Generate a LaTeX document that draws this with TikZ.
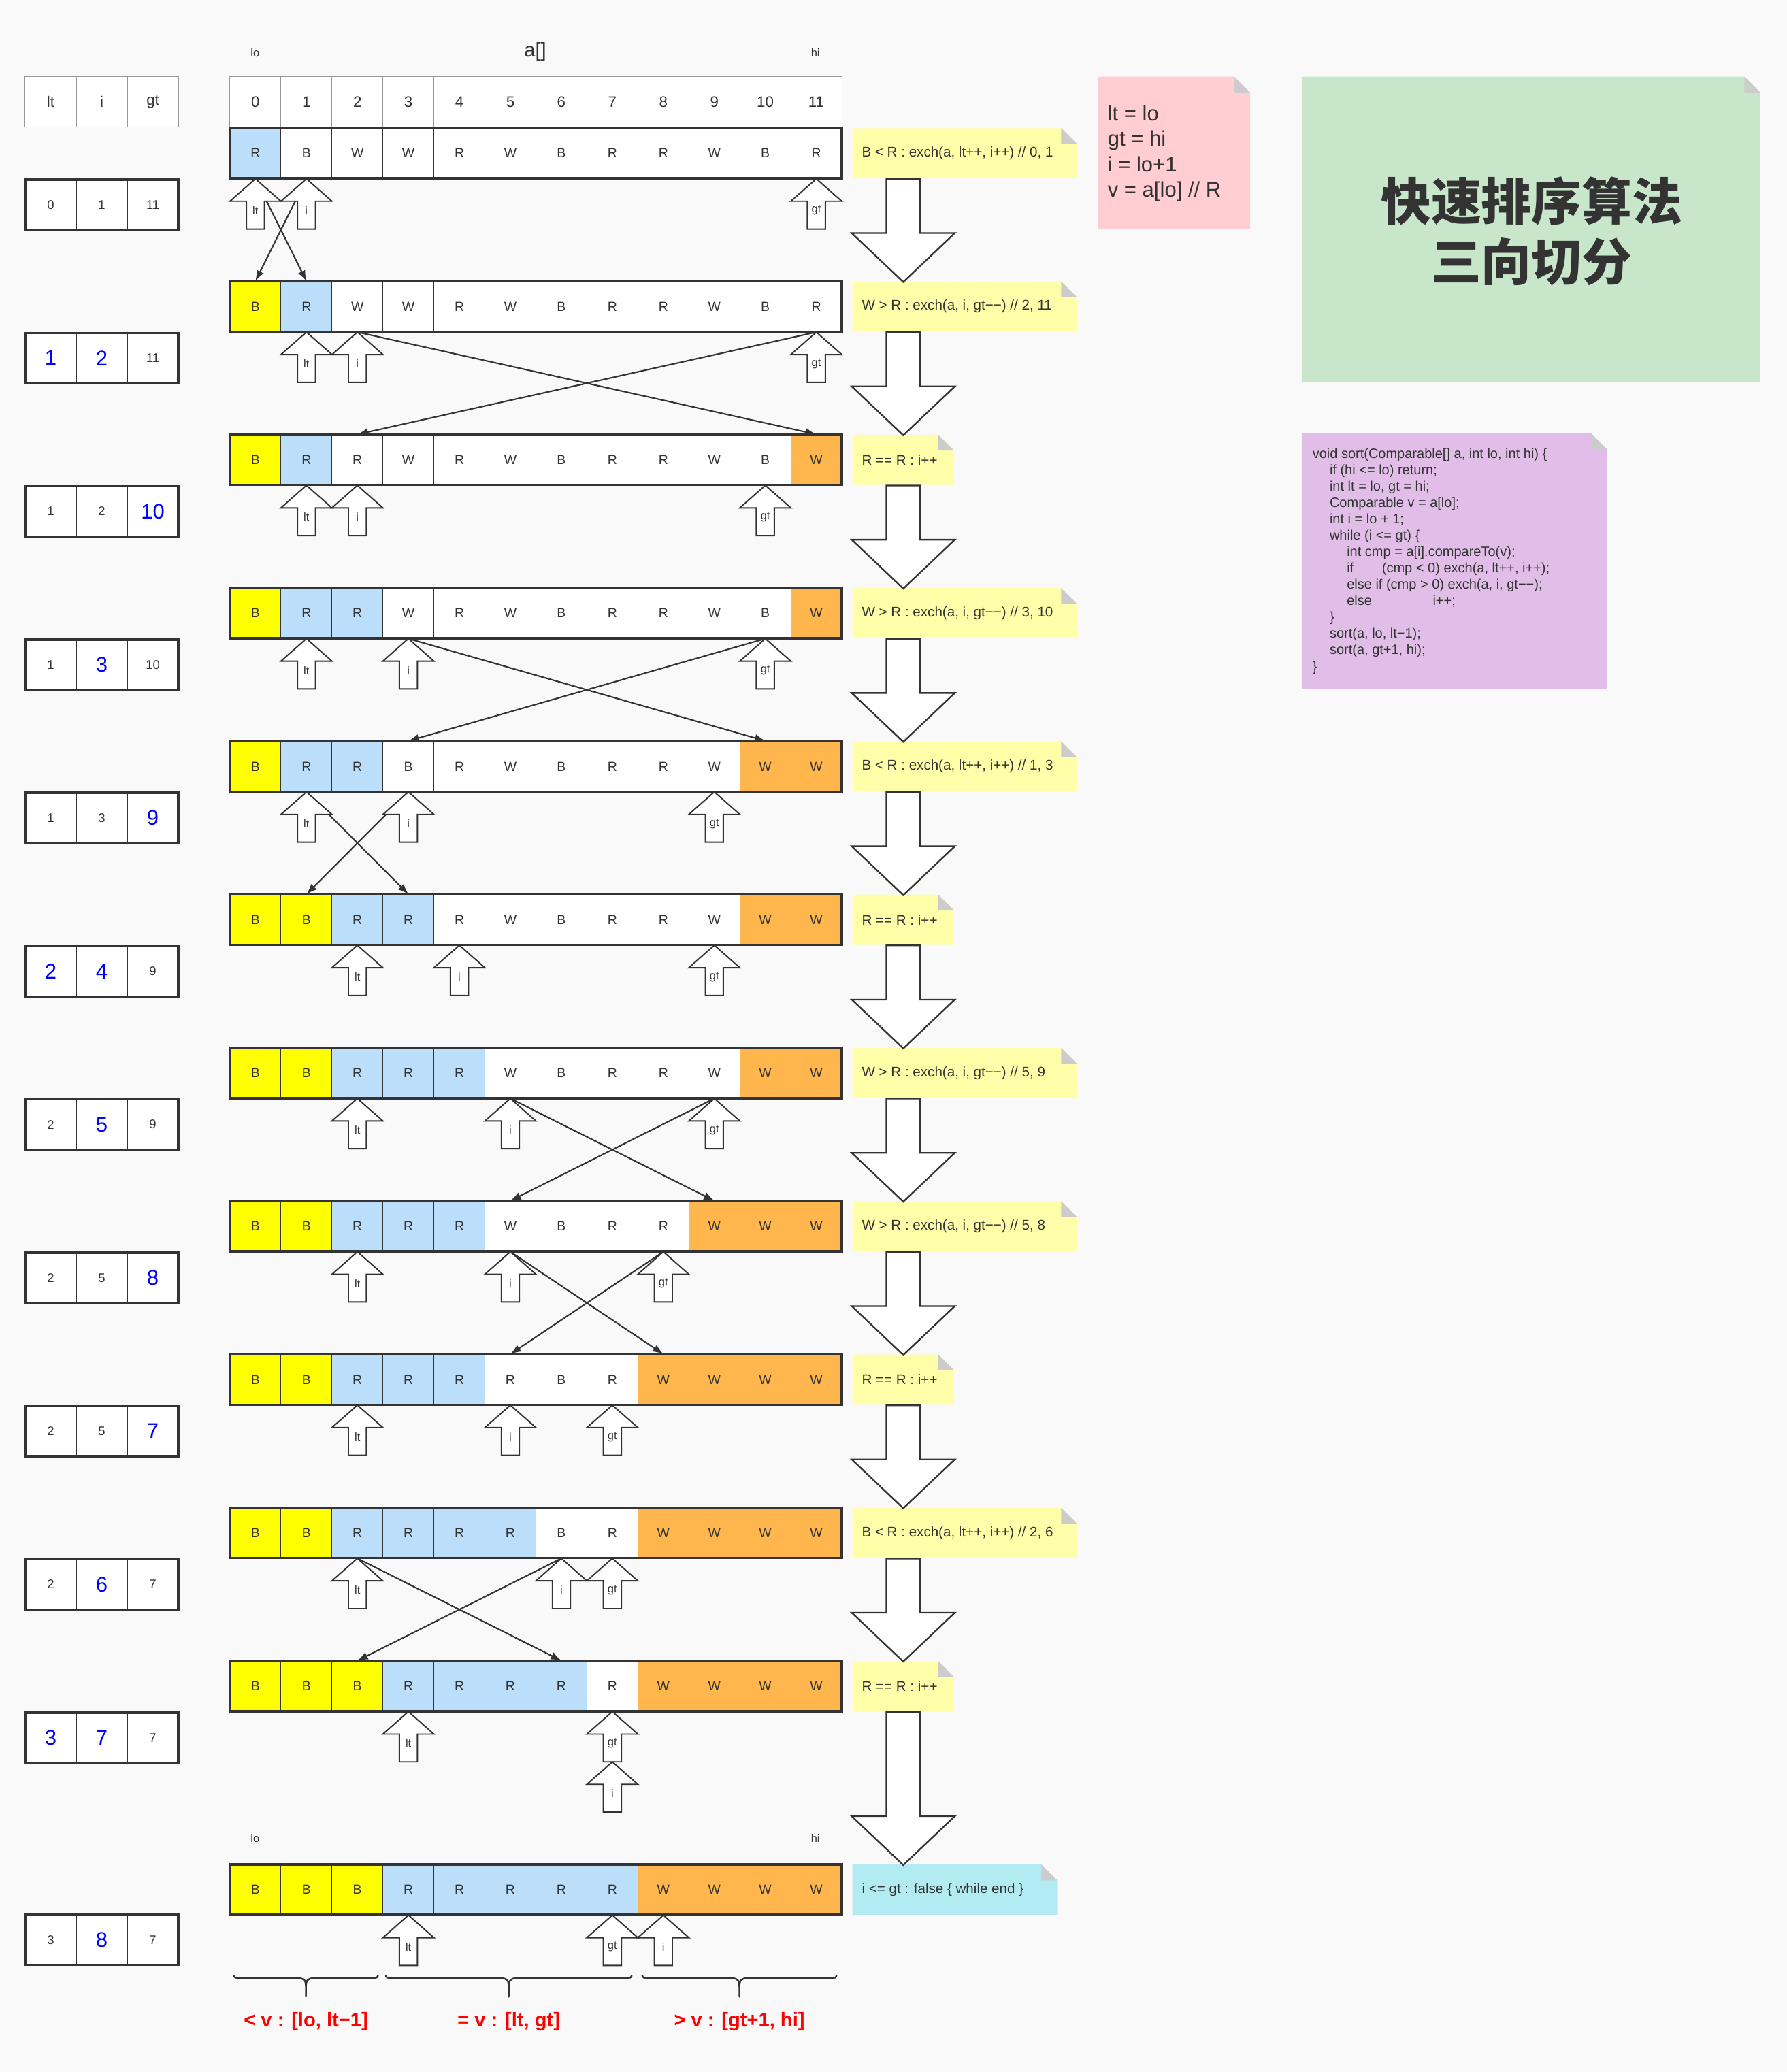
\documentclass[tikz,border=0pt]{standalone}
\usepackage{fontspec}
\setmainfont{Liberation Sans}
\newfontfamily\cjkfont{Noto Sans CJK SC}
\usetikzlibrary{arrows.meta}
\definecolor{cy}{HTML}{FFFF00}
\definecolor{cb}{HTML}{BBDEFB}
\definecolor{cw}{HTML}{FFFFFF}
\definecolor{co}{HTML}{FFB74D}
\definecolor{ink}{HTML}{333333}
\definecolor{bg}{HTML}{F9F9F9}
\definecolor{noteyel}{HTML}{FFFFAA}
\definecolor{notecyan}{HTML}{B2EBF2}
\definecolor{notepink}{HTML}{FFCDD2}
\definecolor{notegreen}{HTML}{C8E6C9}
\definecolor{notepurple}{HTML}{E1BEE7}
\definecolor{fold}{HTML}{CCCCCC}
\definecolor{numblue}{HTML}{0000FF}
\definecolor{hdrgray}{HTML}{999999}
\newcommand\bn[1]{{\fontsize{16}{19}\selectfont\color{numblue}#1}}
% array row: name, top y, letter/colour list
\newcommand\arow[3]{%
  \foreach \ltr/\clr [count=\cc from 0] in {#3} {
    \node[cell, fill=\clr] (#1c\cc) at ({174+38.583*\cc+19.29}, {#2+19}) {\ltr};
  }
  \draw[outerframe] (174,#2) rectangle (637,{#2+38});
}
% index table: name, top y, lt, i, gt
\newcommand\trow[5]{%
  \node[tcell] (#1a) at (38.33, {#2+19}) {#3};
  \node[tcell] (#1b) at (77, {#2+19}) {#4};
  \node[tcell] (#1g) at (115.67, {#2+19}) {#5};
  \draw[outerframe] (19,#2) rectangle (135,{#2+38});
}
% sticky note body: name, x, y, w, h, colour
\newcommand\note[6]{%
  \fill[#6] (#2,#3) -- ({#2+#4-12},#3) -- ({#2+#4},{#3+12}) -- ({#2+#4},{#3+#5}) -- (#2,{#3+#5}) -- cycle;
  \fill[fold] ({#2+#4-12},#3) -- ({#2+#4-12},{#3+12}) -- ({#2+#4},{#3+12}) -- cycle;
  \node[minimum width=#4, minimum height=#5, inner sep=0pt, anchor=north west] (#1) at (#2,#3) {};
}
% row note with text
\newcommand\rnote[5]{% name, y, w, colour, text
  \note{#1}{645}{#2}{#3}{38}{#4}
  \node[notetext] (#1-t) at (652,{#2+19}) {#5};
}
% brace: left x, mid x, right x
\newcommand\brc[3]{%
  \draw[bracestyle] (#1,1494.5) .. controls (#1,1496.5) and ({#1+1},1497) .. ({#1+5},1497) -- ({#2-6},1497) .. controls ({#2-1},1497) and (#2,1499) .. (#2,1504) -- (#2,1511) -- (#2,1504) .. controls (#2,1499) and ({#2+1},1497) .. ({#2+6},1497) -- ({#3-5},1497) .. controls ({#3-1},1497) and (#3,1496.5) .. (#3,1494.5);
}
\begin{document}
\begin{tikzpicture}[x=1pt,y=-1pt,
  cell/.style={draw=ink, line width=0.6pt, minimum width=38.583pt, minimum height=38pt, inner sep=0pt, text=ink, font=\fontsize{10}{12}\selectfont},
  outerframe/.style={draw=ink, line width=1.8pt},
  tcell/.style={cell, minimum width=38.667pt, fill=white, font=\fontsize{9.5}{11}\selectfont},
  hcell/.style={draw=hdrgray, line width=0.5pt, fill=white, minimum width=38.583pt, minimum height=38pt, inner sep=0pt, text=ink, font=\fontsize{11.5}{13}\selectfont},
  ptrshape/.style={draw=ink, fill=white, line width=1pt},
  ptrlbl/.style={inner sep=0pt, text=ink, font=\fontsize{8.5}{10}\selectfont},
  bigshape/.style={draw=ink, fill=white, line width=1.2pt},
  xline/.style={draw=ink, line width=1.1pt, -{Latex[length=8pt,width=6pt]}},
  notetext/.style={inner sep=0pt, text=ink, anchor=west, font=\fontsize{10.6}{12.5}\selectfont},
  small/.style={inner sep=0pt, text=ink, font=\fontsize{8.5}{10}\selectfont},
  bracestyle/.style={draw=ink, line width=1.3pt, line join=round},
  redlbl/.style={inner sep=0pt, text=red, font=\bfseries\fontsize{15}{18}\selectfont},
  pics/ptr/.style={code={
    \draw[ptrshape] (0,0) -- (19.29,17) -- (6.8,17) -- (6.8,38) -- (-6.8,38) -- (-6.8,17) -- (-19.29,17) -- cycle;
    \node[ptrlbl] (-l) at (0,24) {#1};
  }},
  pics/bigarr/.style={code={
    \draw[bigshape] (-12.8,0) -- (12.8,0) -- (12.8,{#1-37}) -- (39,{#1-37}) -- (0,#1) -- (-39,{#1-37}) -- (-12.8,{#1-37}) -- cycle;
  }},
]
\useasboundingbox (0,0) rectangle (1352,1568);
\fill[bg] (0,0) rectangle (1352,1568);

% headers
\node[hcell, minimum width=38.667pt] (hlt) at (38.33,77) {lt};
\node[hcell, minimum width=38.667pt] (hi) at (77,77) {i};
\node[hcell, minimum width=38.667pt] (hgt) at (115.67,77) {gt};
\foreach \cc in {0,...,11} {
  \node[hcell] (h\cc) at ({174+38.583*\cc+19.29}, 77) {\cc};
}
\node[inner sep=0pt, text=ink, font=\fontsize{15}{18}\selectfont] (aname) at (405,39) {a[]};
\node[small] (lotop) at (193,40) {lo};
\node[small] (hitop) at (617,40) {hi};
\node[small] (lobot) at (193,1391) {lo};
\node[small] (hibot) at (617,1391) {hi};

% side notes
\note{pink}{831}{58}{115}{115}{notepink}
\node[inner sep=0pt, text=ink, anchor=west, align=left, font=\fontsize{16}{19.3}\selectfont] (pink-t) at (838,116) {lt = lo\\gt = hi\\i = lo+1\\v = a[lo] // R};
\note{green}{985}{58}{347}{231}{notegreen}
\node[inner sep=0pt, text=ink, align=center, font=\cjkfont\bfseries\fontsize{38}{46}\selectfont] (title) at (1159,175) {快速排序算法\\三向切分};
\note{code}{985}{328}{231}{193}{notepurple}
\node[inner sep=0pt, text=ink, anchor=west, align=left, font=\fontsize{10.3}{12.4}\selectfont] (code-t) at (993,424.5) {%
void sort(Comparable[] a, int lo, int hi) \{\\
\hspace*{13pt}if (hi <= lo) return;\\
\hspace*{13pt}int lt = lo, gt = hi;\\
\hspace*{13pt}Comparable v = a[lo];\\
\hspace*{13pt}int i = lo + 1;\\
\hspace*{13pt}while (i <= gt) \{\\
\hspace*{26pt}int cmp = a[i].compareTo(v);\\
\hspace*{26pt}\makebox[26.6pt][l]{if}(cmp < 0) exch(a, lt++, i++);\\
\hspace*{26pt}else if (cmp > 0) exch(a, i, gt−−);\\
\hspace*{26pt}\makebox[65pt][l]{else}i++;\\
\hspace*{13pt}\}\\
\hspace*{13pt}sort(a, lo, lt−1);\\
\hspace*{13pt}sort(a, gt+1, hi);\\
\}};

% row notes
\rnote{n0}{97}{170}{noteyel}{B < R : exch(a, lt++, i++) // 0, 1}
\rnote{n1}{213}{170}{noteyel}{W > R : exch(a, i, gt−−) // 2, 11}
\rnote{n2}{329}{77}{noteyel}{R == R : i++}
\rnote{n3}{445}{170}{noteyel}{W > R : exch(a, i, gt−−) // 3, 10}
\rnote{n4}{561}{170}{noteyel}{B < R : exch(a, lt++, i++) // 1, 3}
\rnote{n5}{677}{77}{noteyel}{R == R : i++}
\rnote{n6}{793}{170}{noteyel}{W > R : exch(a, i, gt−−) // 5, 9}
\rnote{n7}{909}{170}{noteyel}{W > R : exch(a, i, gt−−) // 5, 8}
\rnote{n8}{1025}{77}{noteyel}{R == R : i++}
\rnote{n9}{1141}{170}{noteyel}{B < R : exch(a, lt++, i++) // 2, 6}
\rnote{n10}{1257}{77}{noteyel}{R == R : i++}
\rnote{n11}{1411}{155}{notecyan}{i <= gt : false \{ while end \}}

% arrays
\arow{r0}{97}{R/cb,B/cw,W/cw,W/cw,R/cw,W/cw,B/cw,R/cw,R/cw,W/cw,B/cw,R/cw}
\arow{r1}{213}{B/cy,R/cb,W/cw,W/cw,R/cw,W/cw,B/cw,R/cw,R/cw,W/cw,B/cw,R/cw}
\arow{r2}{329}{B/cy,R/cb,R/cw,W/cw,R/cw,W/cw,B/cw,R/cw,R/cw,W/cw,B/cw,W/co}
\arow{r3}{445}{B/cy,R/cb,R/cb,W/cw,R/cw,W/cw,B/cw,R/cw,R/cw,W/cw,B/cw,W/co}
\arow{r4}{561}{B/cy,R/cb,R/cb,B/cw,R/cw,W/cw,B/cw,R/cw,R/cw,W/cw,W/co,W/co}
\arow{r5}{677}{B/cy,B/cy,R/cb,R/cb,R/cw,W/cw,B/cw,R/cw,R/cw,W/cw,W/co,W/co}
\arow{r6}{793}{B/cy,B/cy,R/cb,R/cb,R/cb,W/cw,B/cw,R/cw,R/cw,W/cw,W/co,W/co}
\arow{r7}{909}{B/cy,B/cy,R/cb,R/cb,R/cb,W/cw,B/cw,R/cw,R/cw,W/co,W/co,W/co}
\arow{r8}{1025}{B/cy,B/cy,R/cb,R/cb,R/cb,R/cw,B/cw,R/cw,W/co,W/co,W/co,W/co}
\arow{r9}{1141}{B/cy,B/cy,R/cb,R/cb,R/cb,R/cb,B/cw,R/cw,W/co,W/co,W/co,W/co}
\arow{r10}{1257}{B/cy,B/cy,B/cy,R/cb,R/cb,R/cb,R/cb,R/cw,W/co,W/co,W/co,W/co}
\arow{r11}{1411}{B/cy,B/cy,B/cy,R/cb,R/cb,R/cb,R/cb,R/cb,W/co,W/co,W/co,W/co}

% index tables
\trow{t0}{136}{0}{1}{11}
\trow{t1}{252}{\bn{1}}{\bn{2}}{11}
\trow{t2}{368}{1}{2}{\bn{10}}
\trow{t3}{484}{1}{\bn{3}}{10}
\trow{t4}{600}{1}{3}{\bn{9}}
\trow{t5}{716}{\bn{2}}{\bn{4}}{9}
\trow{t6}{832}{2}{\bn{5}}{9}
\trow{t7}{948}{2}{5}{\bn{8}}
\trow{t8}{1064}{2}{5}{\bn{7}}
\trow{t9}{1180}{2}{\bn{6}}{7}
\trow{t10}{1296}{\bn{3}}{\bn{7}}{7}
\trow{t11}{1449}{3}{\bn{8}}{7}

% exchange connectors
\draw[xline] (r0c0.south) -- (r1c1.north);
\draw[xline] (r0c1.south) -- (r1c0.north);
\draw[xline] (r1c2.south) -- (r2c11.north);
\draw[xline] (r1c11.south) -- (r2c2.north);
\draw[xline] (r3c3.south) -- (r4c10.north);
\draw[xline] (r3c10.south) -- (r4c3.north);
\draw[xline] (r4c1.south) -- (r5c3.north);
\draw[xline] (r4c3.south) -- (r5c1.north);
\draw[xline] (r6c5.south) -- (r7c9.north);
\draw[xline] (r6c9.south) -- (r7c5.north);
\draw[xline] (r7c5.south) -- (r8c8.north);
\draw[xline] (r7c8.south) -- (r8c5.north);
\draw[xline] (r9c2.south) -- (r10c6.north);
\draw[xline] (r9c6.south) -- (r10c2.north);

% pointers
\foreach \r/\a/\b/\c in {0/0/1/11,1/1/2/11,2/1/2/10,3/1/3/10,4/1/3/9,5/2/4/9,6/2/5/9,7/2/5/8,8/2/5/7,9/2/6/7,11/3/8/7} {
  \pic (p\r lt) at (r\r c\a.south) {ptr=lt};
  \pic (p\r i) at (r\r c\b.south) {ptr=i};
  \pic (p\r gt) at (r\r c\c.south) {ptr=gt};
}
\pic (p10lt) at (r10c3.south) {ptr=lt};
\pic (p10gt) at (r10c7.south) {ptr=gt};
\pic (p10i) at ([yshift=-38pt]r10c7.south) {ptr=i};

% big flow arrows
\foreach \n in {0,...,9} {
  \pic at ([xshift=38.5pt]n\n.south west) {bigarr=78};
}
\pic at ([xshift=38.5pt]n10.south west) {bigarr=116};

% braces and ranges
\brc{177}{231.5}{286}
\brc{292}{385}{478}
\brc{486}{559.5}{633}
\node[redlbl] (lessv) at (231.5,1530) {< v : [lo, lt−1]};
\node[redlbl] (eqv) at (385,1530) {= v : [lt, gt]};
\node[redlbl] (gtv) at (559.5,1530) {> v : [gt+1, hi]};
\end{tikzpicture}
\end{document}
